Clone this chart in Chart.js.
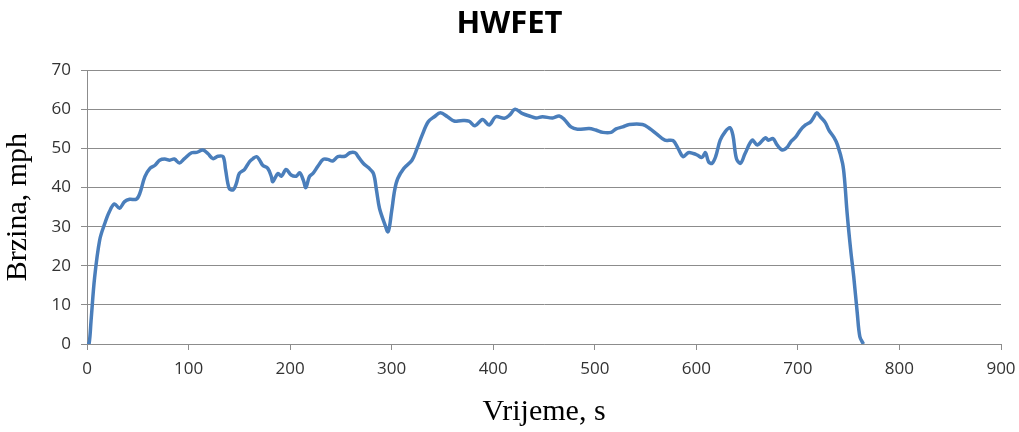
<!DOCTYPE html>
<html>
<head>
<meta charset="utf-8">
<script src="https://cdn.jsdelivr.net/npm/chart.js@4"></script>
<style>
  html, body { margin: 0; padding: 0; background: #fff; }
  #wrap { width: 1019px; height: 432px; }
</style>
</head>
<body>
<div id="wrap"><canvas id="hwfet-chart" width="1019" height="432"></canvas></div>
<script>
// HWFET drive cycle
const times = [
  0, 2, 4, 7.5, 12.5, 17.5, 22, 27, 32, 37, 42, 48.5, 52, 57, 62, 67, 71.5, 76.5, 81.5, 86,
  91, 96, 103, 108, 114, 119, 124, 129, 134, 136.5, 140, 144, 147, 150, 155, 160, 163.5, 167, 170, 173,
  178, 181.5, 183, 188, 191.5, 196, 201, 206, 209.5, 213, 215.5, 219, 222.5, 227.5, 232.5, 237, 242, 247, 254, 259,
  264, 267, 272, 277, 282, 285, 288, 293, 296.5, 300, 303, 306, 312, 320, 325, 330, 336, 342, 348, 355,
  361.5, 368, 376, 382, 389.5, 396, 402.5, 411, 416, 421.5, 429, 435.5, 442, 448.5, 458.5, 465, 470, 476.5, 483, 494.5,
  501, 508, 516, 521, 527.5, 534, 547, 554, 560.5, 569, 577, 582, 587, 592, 597, 601, 605.5, 609, 612, 615.5,
  619, 623.5, 628.5, 633, 636, 639.5, 643.5, 648, 655, 660, 668, 671, 675.5, 679.5, 684.5, 689.5, 693, 697.5, 702.5, 707.5,
  712.5, 715, 718.5, 722, 727, 730.5, 735.5, 739, 744, 746, 748.5, 752, 755, 758.5, 761, 764.5
];
const speeds = [
  0, 0, 6, 17, 26.6, 30.8, 33.8, 35.8, 34.7, 36.4, 37, 37, 38.5, 42.8, 44.9, 45.7, 47, 47.3, 47, 47.3,
  46.3, 47.4, 48.9, 49, 49.6, 48.7, 47.4, 48, 47.9, 44.5, 39.8, 39.4, 41, 43.6, 44.6, 46.6, 47.4, 47.9, 47, 45.7,
  44.9, 42.8, 41.5, 43.6, 42.9, 44.6, 43.2, 42.9, 43.8, 41.9, 40, 42.8, 43.6, 45.5, 47.2, 47.2, 46.8, 47.9, 48, 48.9,
  48.9, 47.9, 46.2, 45.1, 43.6, 39.4, 34.7, 30.8, 28.7, 34, 39.4, 42.3, 44.9, 47, 50, 53.4, 56.8, 58.1, 59.1, 58.1,
  57, 57.1, 57, 55.8, 57.4, 56, 58.1, 57.7, 58.5, 60, 58.9, 58.3, 57.8, 58.1, 57.8, 58.3, 57.4, 55.5, 54.9, 55.1,
  54.7, 54.1, 54.1, 55, 55.5, 56.1, 56.1, 55.1, 53.8, 52.1, 52, 50, 47.9, 48.9, 48.7, 48.3, 47.7, 48.9, 46.6, 46.2,
  47.9, 52.1, 54.3, 55.3, 53.4, 47.4, 46.2, 48.7, 52.1, 50.9, 52.7, 52.1, 52.5, 50.9, 49.6, 50.3, 51.7, 52.8, 54.7, 56,
  56.8, 57.7, 59.1, 58.1, 56.6, 54.7, 52.8, 50.9, 46.2, 41.9, 33.4, 24, 17.2, 7.8, 1.9, 0
];
const xTicks = [0, 100, 200, 300, 400, 500, 600, 700, 800, 900];
const yTicks = [0, 10, 20, 30, 40, 50, 60, 70];

const points = times.map((t, i) => ({ x: t, y: speeds[i] }));
const tickFont = { family: "'Open Sans', sans-serif", size: 17 };
const serifFont = { family: "'Liberation Serif', 'Times New Roman', serif", size: 30 };
const gridGray = "#8c8c8c";

new Chart(document.getElementById("hwfet-chart"), {
  type: "scatter",
  data: {
    datasets: [
      {
        label: "HWFET",
        data: points,
        showLine: true,
        borderColor: "#4a7ebb",
        borderWidth: 3.5,
        pointRadius: 0,
        tension: 0.35,
        fill: false,
      },
    ],
  },
  options: {
    responsive: false,
    animation: false,
    layout: { padding: 0 },
    plugins: {
      legend: { display: false },
      tooltip: { enabled: false },
      title: {
        display: true,
        text: "HWFET",
        color: "#000",
        font: { family: "'Open Sans', sans-serif", size: 31, weight: "bold" },
        padding: { top: 6, bottom: 27 },
      },
    },
    scales: {
      x: {
        type: "linear",
        min: 0,
        max: 900,
        afterBuildTicks: (scale) => { scale.ticks = xTicks.map((v) => ({ value: v })); },
        afterFit: (scale) => {
          scale.height = 88;
          scale.paddingLeft = 0;
          scale.paddingRight = 18;
        },
        grid: { drawOnChartArea: false, drawTicks: true, tickLength: 6, color: gridGray },
        border: { color: gridGray },
        ticks: { color: "#333", font: tickFont, padding: 9, maxRotation: 0 },
        title: {
          display: true,
          text: "Vrijeme, s",
          color: "#000",
          font: serifFont,
          padding: { top: 0, bottom: 2 },
        },
      },
      y: {
        min: 0,
        max: 70,
        afterBuildTicks: (scale) => { scale.ticks = yTicks.map((v) => ({ value: v })); },
        afterFit: (scale) => { scale.width = 87; },
        grid: { color: gridGray, tickLength: 6 },
        border: { color: gridGray },
        ticks: { color: "#333", font: tickFont, padding: 10 },
        title: {
          display: true,
          text: "Brzina, mph",
          color: "#000",
          font: serifFont,
          padding: { top: 0, bottom: 0 },
        },
      },
    },
  },
});
</script>
</body>
</html>
